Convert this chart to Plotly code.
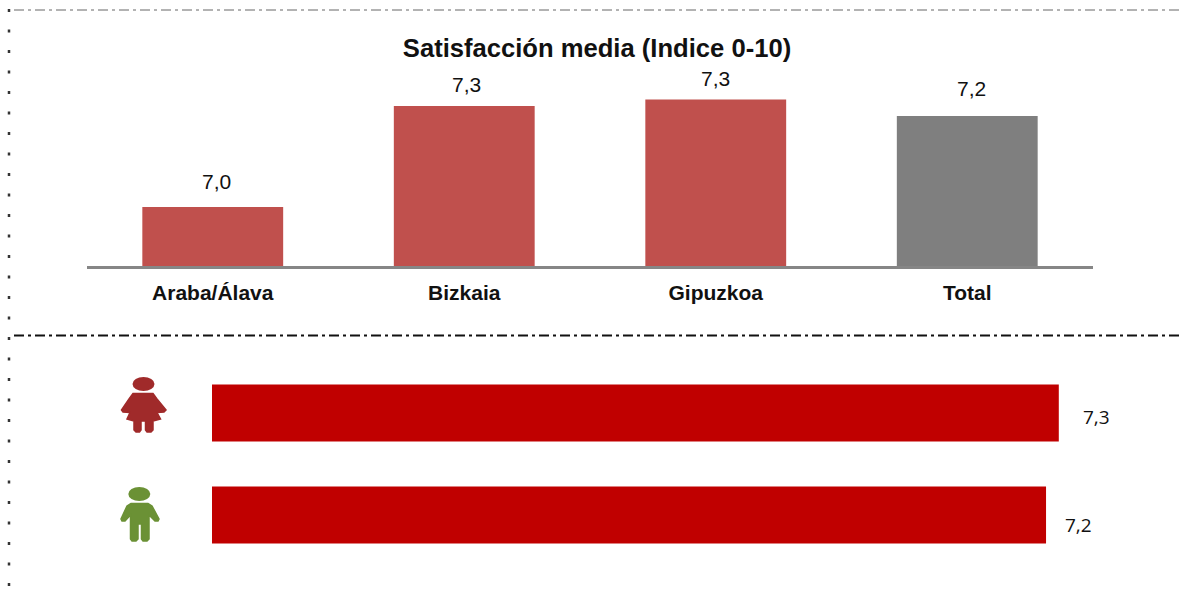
import plotly.graph_objects as go

W, H = 1182, 591
provinces = ["Araba/Álava", "Bizkaia", "Gipuzkoa", "Total"]
province_values = [7.02, 7.2725, 7.289, 7.2475]
province_labels = ["7,0", "7,3", "7,3", "7,2"]
province_colors = ["#C0504D", "#C0504D", "#C0504D", "#7F7F7F"]
sexes = ["Hombres", "Mujeres"]
sex_values = [7.19, 7.3]
sex_labels = ["7,2", "7,3"]


def px(x):
    return x / W


def py(y):
    return 1 - y / H


def path(points):
    return "M " + " L ".join(f"{px(x):.5f},{py(y):.5f}" for x, y in points) + " Z"


def icon_shape(points, color):
    return dict(type="path", xref="paper", yref="paper", path=path(points),
                fillcolor=color, line=dict(color=color, width=1.5), layer="above")


def head(cx, cy, rx, ry, color):
    return dict(type="circle", xref="paper", yref="paper", x0=px(cx - rx), x1=px(cx + rx),
                y0=py(cy + ry), y1=py(cy - ry), fillcolor=color, line=dict(color=color, width=0))


RED_ICON = "#A02A2A"
GREEN_ICON = "#6B9135"
girl = [(133, 393.5), (153, 393.5), (157, 399), (166, 410), (164, 412), (157, 412.5), (160.5, 419), (153, 421),
        (153, 430), (151, 432), (147, 432), (145.5, 430), (145.5, 421), (141, 421), (141, 430),
        (139.5, 432), (136, 432), (134, 430), (134, 421), (127, 419), (130, 412.5), (123, 412), (121.5, 410), (129, 399)]
boy = [(131, 503.5), (148, 503.5), (152, 506), (159, 519), (158, 521), (155, 521), (149, 515),
       (149, 539), (147, 541), (143, 541), (141.5, 539), (141.5, 524), (138, 524), (138, 539),
       (136, 541), (132, 541), (130.5, 539), (130.5, 515), (125, 521), (122, 521), (121, 519), (127, 506)]

fig = go.Figure()
fig.add_trace(go.Bar(x=provinces, y=province_values, marker=dict(color=province_colors, line_width=0),
                     xaxis="x", yaxis="y", hoverinfo="skip"))
fig.add_trace(go.Bar(x=sex_values, y=sexes, orientation="h", marker=dict(color="#C00000", line_width=0),
                     xaxis="x2", yaxis="y2", hoverinfo="skip"))

annotations = []
for c, v, t, dx, dy in zip(provinces, province_values, province_labels, [3.5, 2, 0, 4], [26, 21, 21, 27]):
    annotations.append(dict(x=c, y=v, xref="x", yref="y", text=t, showarrow=False, yanchor="middle",
                            xshift=dx, yshift=dy,
                            font=dict(family="Liberation Sans", size=21, color="#111111")))
for c, v, t, dx, dy in zip(sexes, sex_values, sex_labels, [32, 38], [-10, -4]):
    annotations.append(dict(x=v, y=c, xref="x2", yref="y2", text=t, showarrow=False, xshift=dx, yshift=dy,
                            font=dict(family="Open Sans", size=19, color="#111111")))

line = dict(type="line", xref="paper", yref="paper")
shapes = [
    dict(line, x0=px(14), x1=px(1180), y0=py(10), y1=py(10), line=dict(color="#666666", width=1, dash="10px,4px,3px,4px")),
    dict(line, x0=px(14), x1=px(1180), y0=py(335.5), y1=py(335.5), line=dict(color="#111111", width=2, dash="10px,4px,3px,4px")),
    dict(line, x0=px(9), x1=px(9), y0=py(9), y1=py(586), line=dict(color="#333333", width=2.5, dash="3px,17.5px")),
    head(143.5, 384, 11, 7, RED_ICON), icon_shape(girl, RED_ICON),
    head(139.3, 494, 11, 7, GREEN_ICON), icon_shape(boy, GREEN_ICON),
]

fig.update_layout(
    width=W, height=H, margin=dict(l=0, r=0, t=0, b=0), paper_bgcolor="white", plot_bgcolor="white",
    showlegend=False, bargap=0.44,
    title=dict(text="<b>Satisfacción media (Indice 0-10)</b>", x=597 / W, xanchor="center", y=py(48), yanchor="middle",
               font=dict(family="Liberation Sans", size=25.6, color="#111111")),
    xaxis=dict(domain=[px(87), px(1093)], type="category", showline=True, linecolor="#868686", linewidth=3,
               ticks="", showgrid=False, ticklabelstandoff=6,
               tickfont=dict(family="Liberation Sans", size=21, color="#111111", weight=700)),
    yaxis=dict(domain=[py(266), py(60)], range=[6.8725, 7.3875], visible=False),
    xaxis2=dict(domain=[px(212), px(1140)], range=[0, 8], visible=False, anchor="y2"),
    yaxis2=dict(domain=[py(566), py(362)], type="category", categoryorder="array", categoryarray=sexes,
                range=[-0.5, 1.5], visible=False, anchor="x2"),
    annotations=annotations, shapes=shapes,
)
fig.write_html("out.html", config=dict(displayModeBar=False),
               post_script="document.body.style.margin='0';document.body.style.overflow='hidden';")
